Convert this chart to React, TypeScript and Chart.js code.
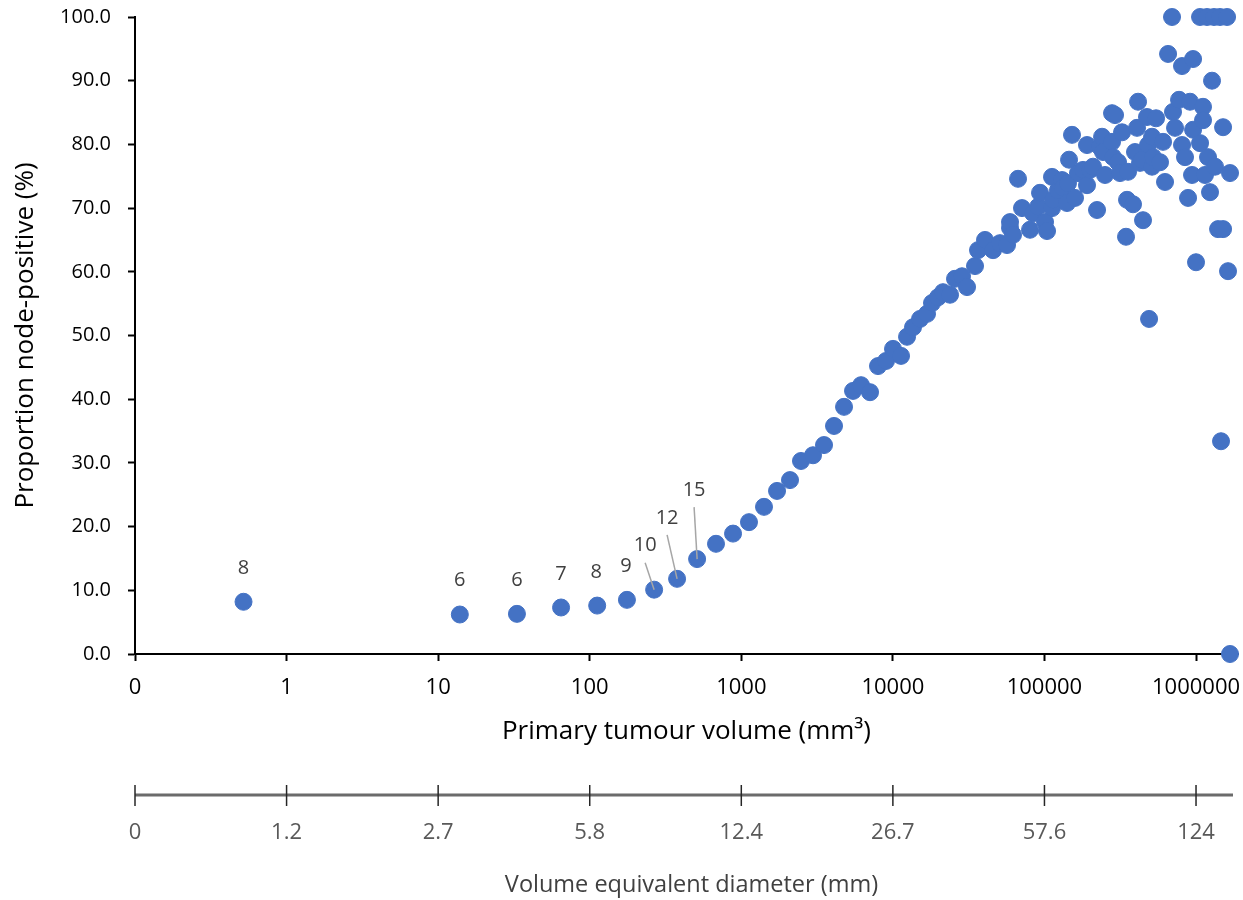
import React, { useEffect, useRef } from 'react';
import { Chart, registerables } from 'chart.js';

Chart.register(...registerables);

// ---- Data ----
const volumes: number[] = [
  0.52, 13.9, 33.1, 64.7, 112, 176, 266, 377, 511, 681, 882, 1124, 1412, 1721, 2096, 2477, 2973, 3514,
  4090, 4762, 5460, 6165, 7069, 7980, 9012, 10020, 11320, 12400, 13580, 15110, 16800, 18130, 19860,
  21420, 23830, 25700, 28590, 30850, 34830, 36460, 40550, 45800,
  50920, 56640, 59270, 59270, 62030, 66950, 71130, 80330, 84080, 90700, 93500, 100900, 104000,
  112200, 112200, 113900, 122900, 130600, 132600, 140900, 143000, 145300, 152000, 159100, 166500,
  179700, 190900, 190900, 199800, 209200, 222300, 232600, 239900, 243500, 251000, 279200, 279200,
  292200, 283500, 305900, 315300, 325000, 345300, 350600, 356000, 384000, 395900, 408100, 414500,
  427000, 440400, 447000, 475000, 482400, 490000, 512600, 512600, 520500, 545000, 578800, 606000,
  624500, 654000, 694500, 705000, 727000, 772500, 808500, 808500, 846000, 886000, 913000, 941300,
  956000, 956000, 1000000, 1063000, 1063000, 1112000, 1112000, 1146000, 1182000, 1200000, 1237000,
  1275000, 1315000, 1335000, 1440000, 1398000, 1508000, 1462000, 1508000, 1602000, 1626000,
  1676000, 1676000,
];
const proportions: number[] = [
  8.2, 6.2, 6.3, 7.3, 7.6, 8.5, 10.1, 11.8, 14.9, 17.3, 18.9, 20.7, 23.1, 25.6, 27.3, 30.3, 31.2, 32.8,
  35.8, 38.8, 41.3, 42.2, 41.1, 45.2, 46.0, 47.9, 46.8, 49.8, 51.3, 52.6, 53.4, 55.1, 56.0,
  56.8, 56.4, 58.9, 59.3, 57.6, 60.9, 63.4, 65.0, 63.4,
  64.5, 64.2, 66.9, 67.8, 65.8, 74.6, 70.0, 66.6, 69.2, 70.2, 72.4, 67.8, 66.4,
  70.0, 74.9, 71.3, 72.8, 74.4, 73.2, 70.8, 73.9, 77.6, 81.5, 71.6, 75.5,
  76.0, 79.9, 73.6, 76.0, 76.5, 69.7, 79.6, 81.2, 78.8, 75.2, 84.9, 80.4,
  84.6, 78.0, 77.2, 75.5, 81.9, 65.5, 71.3, 75.7, 70.6, 78.8, 82.6, 86.7,
  77.1, 77.6, 68.1, 84.3, 79.9, 52.6, 76.5, 81.2, 78.0, 84.1, 77.2, 80.4,
  74.1, 94.2, 100, 85.1, 82.6, 87.0, 92.3, 79.9, 78.0, 71.6, 86.7, 75.2,
  93.4, 82.3, 61.5, 100, 80.2, 85.9, 83.8, 75.2, 100, 78.0, 72.5,
  90.0, 100, 76.5, 100, 66.7, 82.7, 33.4, 66.7, 100, 60.1,
  75.5, 0,
];
const pointLabels: string[] = ['8', '6', '6', '7', '8', '9', '10', '12', '15'];
// label placement relative to its point: [dx, dy, leader line?]
const labelPlacement: [number, number, boolean][] = [
  [0, -33, false], [0, -34, false], [0, -34, false], [0, -33, false], [-1, -33, false],
  [-1, -34, false], [-9, -44, true], [-10, -61, true], [-3, -69, true],
];
const xTickValues: number[] = [0.1, 1, 10, 100, 1000, 10000, 100000, 1000000];
const xTickLabels: string[] = ['0', '1', '10', '100', '1000', '10000', '100000', '1000000'];
const diameterLabels: string[] = ['0', '1.2', '2.7', '5.8', '12.4', '26.7', '57.6', '124'];
const xMin = 0.1;
const xMax = 1892000;
const yMin = 0;
const yMax = 100;
const yStep = 10;

const FONT = "'Open Sans', 'Noto Sans', sans-serif";
const BLUE = '#4472C4';

const annotationPlugin = {
  id: 'annot',
  afterDatasetsDraw(chart: any) {
    const ctx = chart.ctx;
    const meta = chart.getDatasetMeta(0);
    ctx.save();
    pointLabels.forEach((txt, i) => {
      const pt = meta.data[i];
      if (!pt) return;
      const [dx, dy, leader] = labelPlacement[i];
      const tx = pt.x + dx;
      const ty = pt.y + dy;
      if (leader) {
        ctx.strokeStyle = '#a6a6a6';
        ctx.lineWidth = 1.5;
        ctx.beginPath();
        ctx.moveTo(tx, ty + 17);
        ctx.lineTo(pt.x, pt.y);
        ctx.stroke();
      }
      ctx.fillStyle = '#404040';
      ctx.font = `20px ${FONT}`;
      ctx.textAlign = 'center';
      ctx.textBaseline = 'middle';
      ctx.fillText(txt, tx, ty);
    });
    ctx.restore();
  },
  afterDraw(chart: any) {
    const ctx = chart.ctx;
    const xs = chart.scales.x;
    const area = chart.chartArea;
    const lineY = area.bottom + 141;
    ctx.save();
    ctx.strokeStyle = '#6b6b6b';
    ctx.lineWidth = 3;
    ctx.beginPath();
    ctx.moveTo(area.left, lineY);
    ctx.lineTo(area.right - 5, lineY);
    ctx.stroke();
    ctx.strokeStyle = '#262626';
    ctx.lineWidth = 1.5;
    ctx.fillStyle = '#595959';
    ctx.font = `22px ${FONT}`;
    ctx.textAlign = 'center';
    ctx.textBaseline = 'middle';
    xTickValues.forEach((v, i) => {
      const px = xs.getPixelForValue(v);
      ctx.beginPath();
      ctx.moveTo(px, lineY - 10);
      ctx.lineTo(px, lineY + 11);
      ctx.stroke();
      ctx.fillText(diameterLabels[i], px, lineY + 38);
    });
    ctx.fillStyle = '#404040';
    ctx.font = `23.5px ${FONT}`;
    ctx.fillText('Volume equivalent diameter (mm)', (area.left + area.right) / 2 + 5, lineY + 90);
    ctx.restore();
  },
};

export default function App() {
  const canvasRef = useRef<HTMLCanvasElement | null>(null);

  useEffect(() => {
    const canvas = canvasRef.current;
    if (!canvas) return;
    const points = volumes.map((v, i) => ({ x: v, y: proportions[i] }));
    const chart = new Chart(canvas, {
      type: 'scatter',
      data: {
        datasets: [
          {
            data: points,
            backgroundColor: BLUE,
            borderColor: BLUE,
            borderWidth: 1,
            pointRadius: 8.5,
            pointHoverRadius: 8.5,
            clip: false,
          } as any,
        ],
      },
      options: {
        responsive: false,
        animation: false,
        events: [],
        layout: { autoPadding: false, padding: { left: 0, right: 5, top: 17, bottom: 146 } },
        plugins: { legend: { display: false }, tooltip: { enabled: false } },
        scales: {
          x: {
            type: 'logarithmic',
            min: xMin,
            max: xMax,
            afterBuildTicks: (s: any) => {
              s.ticks = xTickValues.map((v) => ({ value: v }));
            },
            afterFit: (s: any) => {
              s.height = 100;
              s.paddingLeft = 0;
              s.paddingRight = 0;
            },
            ticks: {
              autoSkip: false,
              maxRotation: 0,
              minRotation: 0,
              padding: 14,
              color: '#000',
              font: { size: 22, family: FONT },
              callback: (_v: any, i: number) => xTickLabels[i],
            },
            grid: { drawOnChartArea: false, tickLength: 7, tickColor: '#000', tickWidth: 2 },
            border: { color: '#000', width: 2 },
            title: {
              display: true,
              text: 'Primary tumour volume (mm³)',
              color: '#000',
              font: { size: 26, family: FONT },
              padding: { top: 4, bottom: 7 },
            },
          },
          y: {
            min: yMin,
            max: yMax,
            afterFit: (s: any) => {
              s.width = 135;
              s.paddingTop = 0;
              s.paddingBottom = 0;
            },
            ticks: {
              stepSize: yStep,
              padding: 17,
              color: '#000',
              font: { size: 20, family: FONT },
              callback: (v: any) => Number(v).toFixed(1),
            },
            grid: { drawOnChartArea: false, tickLength: 7, tickColor: '#000', tickWidth: 2 },
            border: { color: '#000', width: 2 },
            title: {
              display: true,
              text: 'Proportion node-positive (%)',
              color: '#000',
              font: { size: 26, family: FONT },
              padding: { top: 10, bottom: 0 },
            },
          },
        },
      } as any,
      plugins: [annotationPlugin],
    });
    return () => chart.destroy();
  }, []);

  return (
    <div style={{ position: 'absolute', left: 0, top: 0, width: 1243, height: 900, background: '#fff' }}>
      <canvas ref={canvasRef} width={1243} height={900} style={{ display: 'block' }} />
    </div>
  );
}
